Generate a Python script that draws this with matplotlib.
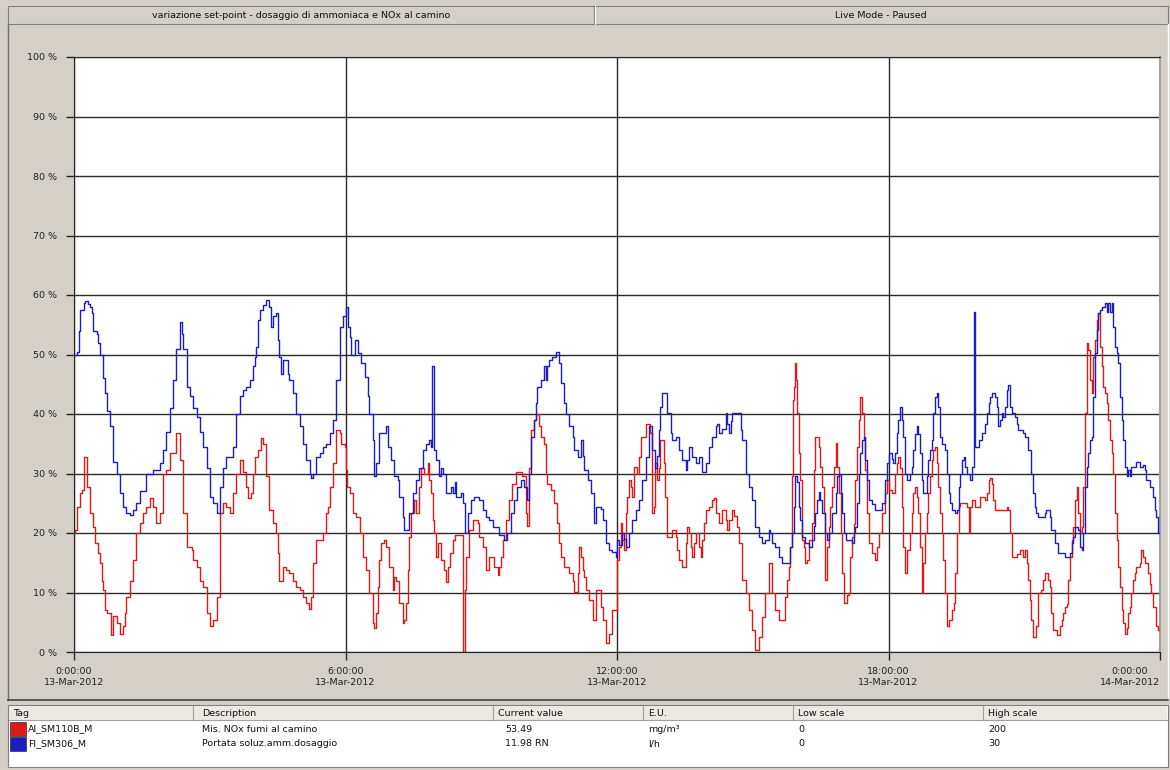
import matplotlib
matplotlib.use("Agg")
import matplotlib.pyplot as plt
from matplotlib.patches import Rectangle
from matplotlib.lines import Line2D

# ---------------- data (hours since 13-Mar-2012 0:00, % of scale) ----------------
nox_t = [0.00, 0.02, 0.06, 0.13, 0.17, 0.21, 0.22, 0.26, 0.28, 0.35, 0.43, 0.46, 0.54, 0.57, 0.61, 0.65,
         0.68, 0.72, 0.79, 0.82, 0.87, 0.94, 1.01, 1.09, 1.12, 1.16, 1.24, 1.31, 1.38, 1.46, 1.53, 1.60,
         1.68, 1.75, 1.82, 1.90, 1.97, 2.04, 2.12, 2.19, 2.26, 2.34, 2.41, 2.49, 2.60, 2.63, 2.71, 2.78,
         2.85, 2.93, 3.00, 3.07, 3.15, 3.22, 3.29, 3.37, 3.44, 3.51, 3.59,
         3.66, 3.74, 3.81, 3.85, 3.92, 3.96, 3.99, 4.07, 4.14, 4.18, 4.25, 4.32, 4.40, 4.47, 4.51, 4.54,
         4.62, 4.69, 4.76, 4.84, 4.91, 4.99, 5.06, 5.13, 5.19, 5.24, 5.28, 5.35, 5.50, 5.57, 5.61, 5.65,
         5.72, 5.79, 5.87, 5.90, 5.98, 6.00, 6.03, 6.09, 6.16, 6.24, 6.31, 6.38, 6.46, 6.53, 6.60, 6.64,
         6.68, 6.71, 6.75, 6.79, 6.86, 6.90, 6.97, 7.04, 7.08, 7.12, 7.19, 7.27, 7.30, 7.34, 7.38, 7.41,
         7.45, 7.52, 7.56,
         7.63, 7.67, 7.74, 7.82, 7.85, 7.89, 7.93, 7.96, 8.00, 8.04, 8.07, 8.11, 8.18, 8.22, 8.26, 8.30,
         8.37, 8.41, 8.59, 8.60, 8.63, 8.66, 8.74, 8.81, 8.92, 8.96, 9.03, 9.10, 9.18, 9.29, 9.36, 9.40,
         9.43, 9.47, 9.55, 9.62, 9.69, 9.77, 9.91, 9.99, 10.02, 10.06, 10.10, 10.17, 10.21, 10.28, 10.32,
         10.39, 10.43, 10.46, 10.54, 10.61, 10.68, 10.72, 10.76, 10.83, 10.94, 11.02, 11.05, 11.13, 11.16,
         11.20, 11.24, 11.27, 11.31, 11.38, 11.46, 11.53, 11.60,
         11.64, 11.68, 11.75, 11.82, 11.90, 11.97, 11.99, 12.01, 12.05, 12.08, 12.12, 12.16, 12.19, 12.23,
         12.27, 12.30, 12.34, 12.38, 12.45, 12.49, 12.52, 12.63, 12.71, 12.74, 12.78, 12.82, 12.85, 12.89,
         12.93, 12.96, 13.04, 13.07, 13.11, 13.19, 13.22, 13.30, 13.33, 13.37, 13.44, 13.52, 13.55, 13.59,
         13.63, 13.66, 13.70, 13.74, 13.81, 13.85, 13.88, 13.92, 13.96, 14.03, 14.10, 14.14, 14.18, 14.25,
         14.33, 14.40, 14.44, 14.47, 14.55, 14.58, 14.66, 14.69, 14.77, 14.84, 14.91, 14.99, 15.06, 15.13,
         15.21, 15.28, 15.35, 15.43, 15.50, 15.57,
         15.65, 15.69, 15.72, 15.76, 15.80, 15.83, 15.87, 15.88, 15.91, 15.94, 15.96, 15.98, 16.02, 16.05,
         16.09, 16.13, 16.16, 16.20, 16.24, 16.31, 16.35, 16.38, 16.42, 16.46, 16.49, 16.53, 16.57, 16.60,
         16.64, 16.68, 16.71, 16.75, 16.79, 16.83, 16.86, 16.90, 16.94, 16.97, 17.01, 17.08, 17.12, 17.16,
         17.19, 17.23, 17.27, 17.30, 17.34, 17.38, 17.41, 17.45, 17.49, 17.52, 17.56, 17.63, 17.71, 17.74,
         17.78, 17.85, 17.93, 17.96, 18.00, 18.08, 18.15, 18.19, 18.22, 18.26, 18.30, 18.33, 18.37, 18.41,
         18.48, 18.52, 18.55, 18.59, 18.63, 18.66, 18.70, 18.74, 18.77, 18.81, 18.85, 18.88, 18.92, 18.96,
         18.99, 19.03, 19.07, 19.10, 19.14, 19.18, 19.21, 19.25, 19.29, 19.33, 19.40, 19.44, 19.47, 19.51,
         19.55, 19.58, 19.66, 19.73, 19.77, 19.80, 19.84, 19.91, 20.02, 20.13, 20.17, 20.21, 20.25, 20.28,
         20.32, 20.36, 20.61, 20.65, 20.69, 20.72, 20.83, 20.91, 20.98, 21.02, 21.05, 21.09, 21.13, 21.16,
         21.20, 21.24, 21.27, 21.31, 21.38, 21.42, 21.46, 21.49, 21.53, 21.57, 21.60, 21.64, 21.72, 21.79,
         21.83, 21.86, 21.90, 21.94, 21.97, 22.01, 22.05, 22.08, 22.12, 22.16, 22.19, 22.23, 22.27, 22.30,
         22.34, 22.38, 22.41, 22.45, 22.49, 22.52, 22.56, 22.60, 22.63, 22.67, 22.71, 22.75, 22.78, 22.82,
         22.86, 22.89, 22.93, 22.97, 23.00, 23.04, 23.08, 23.11, 23.15, 23.19, 23.22, 23.26, 23.30, 23.33,
         23.37, 23.41, 23.44, 23.48, 23.55, 23.59, 23.63, 23.66, 23.74, 23.77, 23.81, 23.85, 23.92, 23.96,
         24.00]
nox_v = [20.0, 20.5, 24.4, 26.7, 27.2, 29.5, 32.8, 32.8, 27.8, 23.3, 21.0, 18.3, 16.6, 15.0, 12.0, 10.4,
         7.0, 6.5, 6.5, 2.9, 6.0, 4.8, 3.1, 4.3, 6.5, 9.3, 12.0, 15.5, 20.0, 21.6, 23.3, 24.4,
         25.8, 24.4, 21.6, 23.3, 30.0, 30.6, 33.4, 33.4, 36.8, 32.3, 23.3, 17.7, 17.2, 15.5, 14.3, 12.0,
         11.0, 6.5, 4.3, 5.4, 9.3, 23.3, 25.0, 24.4, 23.3, 26.7, 30.0,
         32.3, 30.3, 27.8, 25.8, 26.7, 30.0, 32.8, 34.0, 35.9, 35.0, 29.5, 23.9, 21.6, 20.0, 16.6, 12.0,
         14.3, 13.7, 13.2, 12.0, 11.0, 10.4, 9.3, 8.2, 7.3, 9.3, 14.9, 18.8, 20.0, 23.3, 24.4, 27.8,
         31.7, 37.3, 36.8, 35.0, 34.5, 30.6, 27.8, 26.7, 23.3, 22.7, 20.0, 16.0, 13.7, 9.9, 4.8, 4.0,
         6.5, 11.0, 15.5, 18.3, 18.8, 17.7, 14.3, 10.4, 12.6, 12.0, 8.2, 4.8, 5.4, 8.2, 13.7, 19.4,
         23.3, 25.5, 23.3,
         27.8, 31.0, 30.0, 31.7, 28.9, 26.7, 22.2, 20.0, 16.0, 18.3, 18.3, 15.5, 13.7, 11.8, 14.3, 16.6,
         18.8, 19.7, 19.7, 0.0, 10.4, 16.0, 20.5, 22.2, 21.6, 19.4, 17.7, 13.7, 16.0, 14.3, 12.9, 14.3,
         16.0, 18.8, 22.2, 25.5, 28.3, 30.3, 29.5, 23.3, 21.1, 31.0, 37.3, 39.0, 40.0, 37.9, 36.2,
         35.0, 30.0, 28.3, 27.2, 25.0, 21.6, 18.3, 16.0, 14.3, 13.2, 12.0, 10.1, 13.2, 17.7,
         16.0, 13.7, 12.6, 10.4, 8.7, 5.4, 10.4, 10.4,
         7.5, 5.4, 1.5, 3.1, 7.1, 7.0, 12.1, 15.5, 17.7, 21.6, 18.8, 17.1, 23.3, 26.1,
         28.9, 27.8, 26.0, 31.1, 30.0, 32.8, 36.2, 38.4, 38.4, 36.8, 23.3, 24.4, 31.7, 28.9,
         31.0, 35.6, 31.7, 26.1, 19.4, 19.4, 20.5, 19.4, 17.1, 15.5, 14.3, 18.3, 21.0, 20.0,
         17.7, 16.0, 18.3, 20.0, 17.7, 16.0, 18.8, 21.6, 23.9, 24.4, 25.5, 25.8, 23.3, 21.6,
         23.9, 22.2, 20.5, 22.2, 23.9, 22.8, 21.0, 18.3, 12.1, 9.9, 7.1, 3.7, 0.3, 2.6,
         5.9, 9.9, 14.9, 9.9, 7.1, 5.4,
         5.4, 5.4, 9.3, 12.1, 14.3, 17.7, 29.5, 42.4, 44.6, 48.5, 45.7, 40.1, 33.4, 28.9,
         18.8, 17.7, 14.9, 15.5, 18.8, 21.6, 30.6, 36.2, 36.2, 34.5, 31.1, 27.8, 23.3, 12.1,
         17.7, 21.0, 24.4, 27.8, 31.1, 35.1, 31.1, 26.7, 20.0, 13.2, 8.2, 9.6, 9.9, 15.9,
         19.4, 21.5, 28.9, 34.5, 39.0, 42.9, 40.1, 36.2, 30.6, 23.3, 18.3, 16.6, 15.5, 17.7,
         20.0, 23.3, 26.7, 28.9, 27.2, 26.7, 30.0, 31.7, 32.8, 31.0, 24.4, 17.7, 13.2, 17.1,
         20.0, 23.3, 26.7, 27.8, 26.1, 23.3, 17.7, 9.9, 14.9, 20.0, 23.3, 26.7, 29.5, 32.3,
         33.9, 34.5, 31.7, 27.8, 23.3, 20.0, 15.5, 9.9, 4.3, 5.4, 7.1, 8.2, 13.2, 20.0,
         24.5, 25.0, 25.0, 24.4, 20.0, 24.4, 25.5, 24.4, 26.1, 25.5, 26.7, 28.9, 29.2, 28.3,
         25.5, 23.9, 24.4, 23.9, 20.0, 16.0, 16.5, 17.1, 16.0, 17.1, 14.9, 12.1, 8.7, 5.4,
         2.5, 2.5, 4.3, 9.9, 10.4, 12.1, 13.2, 13.2, 12.1, 11.0, 6.5, 3.7, 2.9, 4.3,
         5.4, 6.5, 7.6, 8.0, 12.1, 16.0, 18.8, 21.0, 25.5, 27.7, 23.3, 20.0, 21.0, 27.7,
         40.1, 51.9, 50.8, 45.7, 43.5, 49.6, 52.4, 55.8, 56.9, 51.3, 48.0, 44.6, 43.5, 41.8,
         39.0, 35.6, 33.4, 30.0, 23.3, 18.8, 14.3, 11.0, 7.1, 4.8, 3.1, 4.0, 6.5, 7.6,
         9.9, 12.1, 13.2, 14.3, 14.9, 17.1, 16.0, 14.9, 13.2, 11.5, 9.9, 7.6, 4.3, 3.7,
         3.7]

flow_t = [0.00, 0.06, 0.10, 0.13, 0.21, 0.24, 0.32, 0.35, 0.39, 0.43, 0.50, 0.54, 0.57, 0.65, 0.68, 0.72,
          0.79, 0.87, 0.94, 1.01, 1.09, 1.16, 1.24, 1.31, 1.38, 1.46, 1.60, 1.75, 1.90, 1.97, 2.04, 2.12,
          2.19, 2.26, 2.34, 2.38, 2.41, 2.49, 2.56, 2.63, 2.71, 2.78, 2.85, 2.93, 3.00, 3.07, 3.15, 3.22,
          3.29, 3.37, 3.51, 3.59,
          3.66, 3.74, 3.81, 3.88, 3.96, 3.99, 4.03, 4.07, 4.10, 4.18, 4.25, 4.32, 4.36, 4.40, 4.47, 4.51,
          4.54, 4.58, 4.62, 4.69, 4.73, 4.76, 4.84, 4.91, 4.99, 5.06, 5.13, 5.21, 5.24, 5.28, 5.35, 5.43,
          5.50, 5.57, 5.65, 5.72, 5.79, 5.87, 5.94, 6.00, 6.05, 6.09, 6.13, 6.20, 6.24, 6.27, 6.35, 6.42,
          6.49, 6.53, 6.60, 6.64, 6.68, 6.75, 6.90, 6.93, 7.01, 7.08, 7.15, 7.19, 7.27, 7.30, 7.38, 7.41,
          7.49, 7.56,
          7.63, 7.71, 7.78, 7.85, 7.90, 7.91, 7.94, 7.95, 8.00, 8.07, 8.11, 8.15, 8.22, 8.33, 8.37, 8.41,
          8.44, 8.55, 8.59, 8.63, 8.70, 8.77, 8.85, 8.96, 9.03, 9.10, 9.18, 9.25, 9.40, 9.51, 9.58, 9.66,
          9.73, 9.80, 9.88, 9.95, 10.02, 10.06, 10.10, 10.17, 10.21, 10.24, 10.32, 10.39, 10.43, 10.46,
          10.50, 10.57, 10.65, 10.68, 10.72, 10.76, 10.83, 10.87, 10.94, 11.02, 11.05, 11.13, 11.20, 11.24,
          11.27, 11.35, 11.42, 11.49, 11.53, 11.64,
          11.68, 11.75, 11.82, 11.90, 11.97, 12.01, 12.05, 12.12, 12.16, 12.19, 12.27, 12.34, 12.41, 12.49,
          12.56, 12.63, 12.71, 12.74, 12.78, 12.85, 12.89, 12.93, 12.96, 13.00, 13.07, 13.11, 13.19, 13.22,
          13.30, 13.37, 13.44, 13.52, 13.55, 13.59, 13.66, 13.74, 13.81, 13.88, 13.96, 14.03, 14.10, 14.18,
          14.21, 14.25, 14.33, 14.40, 14.44, 14.47, 14.51, 14.55, 14.69, 14.73, 14.77, 14.84, 14.91, 14.99,
          15.06, 15.13, 15.21, 15.28, 15.35, 15.39, 15.43, 15.50, 15.57,
          15.65, 15.80, 15.83, 15.87, 15.91, 15.94, 15.98, 16.02, 16.05, 16.09, 16.16, 16.24, 16.31, 16.35,
          16.38, 16.42, 16.46, 16.49, 16.53, 16.60, 16.64, 16.68, 16.75, 16.83, 16.86, 16.90, 16.94, 16.97,
          17.01, 17.05, 17.19, 17.23, 17.27, 17.30, 17.34, 17.38, 17.41, 17.45, 17.49, 17.52, 17.56, 17.63,
          17.71, 17.78, 17.85, 17.93, 17.96, 18.00, 18.08, 18.11, 18.15, 18.19, 18.22, 18.26, 18.30, 18.33,
          18.37, 18.41, 18.48, 18.52, 18.55, 18.59, 18.63, 18.66, 18.70, 18.74, 18.77, 18.81, 18.85, 18.88,
          18.92, 18.96, 18.99, 19.03, 19.07, 19.10, 19.14, 19.18, 19.25, 19.29, 19.33, 19.36, 19.40, 19.47,
          19.51, 19.55,
          19.58, 19.62, 19.66, 19.69, 19.73, 19.77, 19.80, 19.84, 19.88, 19.90, 19.91, 19.95, 19.99, 20.06,
          20.13, 20.17, 20.21, 20.25, 20.28, 20.36, 20.39, 20.43, 20.47, 20.50, 20.54, 20.58, 20.61, 20.65,
          20.69, 20.72, 20.80, 20.83, 20.87, 20.98, 21.02, 21.09, 21.16, 21.20, 21.24, 21.27, 21.31, 21.46,
          21.49, 21.57, 21.60, 21.68, 21.75, 21.90, 22.01, 22.05, 22.08, 22.12, 22.19, 22.23, 22.27, 22.30,
          22.34, 22.38, 22.41, 22.45, 22.49, 22.52, 22.56, 22.60, 22.63, 22.67, 22.71, 22.78, 22.82, 22.86,
          22.89, 22.93, 22.97, 23.00, 23.04, 23.08, 23.11, 23.15, 23.19, 23.22, 23.26, 23.30, 23.33, 23.37,
          23.48, 23.55, 23.63, 23.66, 23.70, 23.77, 23.85, 23.88, 23.92, 23.96, 24.00]
flow_v = [50.0, 50.5, 54.0, 57.5, 58.6, 59.0, 58.5, 58.0, 57.0, 54.0, 53.5, 52.0, 50.0, 46.0, 43.5, 40.5,
          38.0, 32.0, 30.0, 26.7, 24.4, 23.3, 23.0, 23.8, 25.0, 27.0, 30.0, 30.6, 31.7, 34.0, 37.0, 41.0,
          45.7, 51.0, 55.5, 53.5, 51.0, 44.6, 43.0, 41.0, 39.5, 37.0, 34.5, 31.0, 26.0, 25.0, 23.3, 27.8,
          31.0, 32.8, 34.5, 40.0,
          43.0, 44.0, 44.6, 45.7, 48.0, 49.6, 51.3, 55.8, 57.5, 58.3, 59.2, 58.0, 54.7, 56.4, 57.0, 52.4,
          49.6, 46.8, 49.0, 49.0, 46.8, 45.7, 43.5, 40.0, 37.9, 35.0, 32.3, 30.0, 29.2, 30.0, 32.8, 33.4,
          34.5, 35.0, 36.8, 39.0, 45.7, 54.7, 56.4, 58.0, 54.7, 53.0, 49.9, 52.4, 52.4, 50.2, 48.5, 46.3,
          43.0, 40.0, 35.6, 29.5, 31.7, 36.8, 37.9, 34.5, 32.3, 29.5, 28.9, 26.0, 22.7, 20.5, 20.5, 23.3,
          26.7, 28.9,
          31.0, 34.0, 35.0, 35.6, 34.5, 48.0, 48.0, 34.0, 32.3, 29.5, 31.0, 30.0, 26.7, 27.8, 26.7, 28.6,
          26.0, 26.7, 25.0, 20.0, 23.3, 25.5, 26.0, 25.5, 23.9, 22.7, 22.2, 21.0, 19.7, 18.8, 20.0, 23.3,
          25.5, 27.8, 28.9, 27.8, 25.5, 30.0, 36.2, 39.0, 41.8, 44.6, 45.7, 48.0, 45.7, 48.0,
          49.0, 49.6, 50.5, 50.5, 48.5, 45.2, 41.8, 40.0, 37.9, 36.2, 34.0, 32.8, 35.6, 33.0,
          30.6, 28.9, 26.7, 21.6, 24.4, 24.0,
          22.2, 18.3, 17.1, 16.8, 16.0, 18.8, 18.0, 20.0, 19.0, 17.7, 20.0, 22.2, 23.9, 25.5,
          28.9, 32.8, 37.9, 37.9, 34.0, 31.0, 33.0, 37.3, 41.2, 43.5, 43.5, 40.1, 36.8, 35.6,
          36.2, 34.0, 32.3, 30.6, 32.3, 34.5, 32.8, 31.7, 32.8, 30.3, 31.7, 34.5, 36.2, 37.9,
          38.4, 36.8, 37.5, 40.1, 38.4, 36.8, 38.8, 40.1, 40.1, 37.3, 35.6, 30.0, 27.8, 25.5,
          21.0, 19.4, 18.3, 18.8, 20.5, 20.0, 18.3, 17.7, 16.0,
          14.9, 14.9, 17.7, 20.0, 24.4, 29.5, 28.5, 24.4, 22.2, 19.4, 18.3, 17.7, 18.8, 21.1,
          23.3, 25.5, 26.9, 25.5, 23.3, 20.0, 18.8, 20.0, 23.3, 26.7, 29.5, 30.0, 26.7, 23.3,
          20.0, 18.8, 18.3, 20.0, 21.0, 25.0, 30.0, 33.4, 35.6, 36.2, 32.3, 28.9, 25.5, 24.9,
          23.9, 23.9, 25.0, 28.9, 31.7, 33.4, 32.5, 31.8, 33.4, 36.8, 39.0, 41.2, 39.0, 36.2,
          30.0, 28.9, 30.0, 31.1, 33.9, 36.7, 37.9, 36.7, 33.4, 28.9, 26.7, 26.7, 29.5, 32.3,
          33.9, 35.6, 40.1, 42.9, 43.5, 41.2, 36.2, 35.0, 33.9, 30.0, 26.7, 25.0, 23.9, 23.3,
          23.9, 27.8,
          30.0, 32.3, 32.8, 31.1, 30.0, 30.0, 28.9, 31.1, 31.1, 57.2, 34.5, 34.5, 35.6, 36.8,
          38.4, 40.1, 41.8, 42.9, 43.5, 42.9, 41.2, 37.9, 39.0, 40.1, 39.5, 41.2, 44.0, 44.9,
          41.2, 40.1, 39.5, 38.4, 37.3, 36.8, 36.2, 33.9, 30.0, 26.7, 24.4, 23.3, 22.7, 23.3,
          23.9, 22.7, 20.5, 18.3, 16.6, 16.0, 16.6, 18.3, 19.4, 21.0, 20.5, 17.7, 17.1, 20.0,
          27.8, 31.1, 33.4, 35.6, 36.2, 42.9, 50.2, 54.1, 56.9, 57.5, 58.0, 58.6, 57.2, 58.6,
          57.2, 58.6, 54.7, 51.3, 50.2, 48.5, 42.9, 39.0, 35.6, 31.1, 29.5, 30.6, 29.5, 31.1,
          32.0, 31.1, 31.4, 30.6, 28.9, 27.8, 26.1, 23.9, 22.7, 20.0, 20.0]

y_ticks = [0, 10, 20, 30, 40, 50, 60, 70, 80, 90, 100]
x_ticks = [0, 6, 12, 18, 24]
x_tick_labels = ["0:00:00\n13-Mar-2012", "6:00:00\n13-Mar-2012", "12:00:00\n13-Mar-2012",
                 "18:00:00\n13-Mar-2012", "0:00:00\n14-Mar-2012"]

header_left = "variazione set-point - dosaggio di ammoniaca e NOx al camino"
header_right = "Live Mode - Paused"

table_cols = ["Tag", "Description", "Current value", "E.U.", "Low scale", "High scale"]
table_rows = [
    ["AI_SM110B_M", "Mis. NOx fumi al camino", "53.49", "mg/m\u00b3", "0", "200"],
    ["FI_SM306_M", "Portata soluz.amm.dosaggio", "11.98 RN", "l/h", "0", "30"],
]
series_colors = ["#e01818", "#1c1cc0"]

# ---------------- figure ----------------
W, H = 1170, 770
BG = "#d4d0c8"
plt.rcParams['font.family'] = ['DejaVu Sans']
fig = plt.figure(figsize=(W / 100, H / 100), dpi=100, facecolor=BG)


def fx(x):
    return x / W


def fy(y):
    return 1 - y / H


def rect(x0, y0, x1, y1, fc, ec="none", lw=1.0, z=0):
    fig.patches.append(Rectangle((fx(x0), fy(y1)), fx(x1) - fx(x0), fy(y0) - fy(y1),
                                 transform=fig.transFigure, facecolor=fc, edgecolor=ec,
                                 linewidth=lw, zorder=z))


def hline(x0, x1, y, color, lw=1.0):
    fig.lines.append(Line2D([fx(x0), fx(x1)], [fy(y), fy(y)], transform=fig.transFigure,
                            color=color, linewidth=lw))


def vline(x, y0, y1, color, lw=1.0):
    fig.lines.append(Line2D([fx(x), fx(x)], [fy(y0), fy(y1)], transform=fig.transFigure,
                            color=color, linewidth=lw))


FS = 6.8

# header bar
rect(8, 6, 1168, 24, BG, ec="#808080", lw=0.8)
vline(594, 6, 24, "#808080", 0.8)
vline(595, 6, 24, "#ffffff", 0.8)
fig.text(fx(301), fy(15.5), header_left, ha="center", va="center", fontsize=FS, color="#111111")
fig.text(fx(881), fy(15.5), header_right, ha="center", va="center", fontsize=FS, color="#111111")

# chart frame
vline(8, 24, 700, "#707070", 1.0)
vline(1168, 24, 700, "#ffffff", 1.0)
hline(8, 1168, 700, "#404040", 1.2)

# ---------------- main axes ----------------
ax = fig.add_axes([fx(74), fy(652), fx(1160) - fx(74), fy(57) - fy(652)])
ax.set_facecolor("white")
ax.plot(nox_t, nox_v, drawstyle="steps-post", color=series_colors[0], lw=1.0, zorder=3)
ax.plot(flow_t, flow_v, drawstyle="steps-post", color=series_colors[1], lw=1.0, zorder=4)
ax.set_xlim(0, 24)
ax.set_ylim(0, 100)
ax.set_yticks(y_ticks)
ax.set_yticklabels([f"{v} %" for v in y_ticks])
ax.set_xticks(x_ticks)
ax.set_xticklabels(x_tick_labels)
ax.grid(True, color="#2a2a2a", linewidth=1.0, zorder=1)
ax.set_axisbelow(True)
ax.tick_params(axis="both", labelsize=FS, color="#222222", labelcolor="#222222", length=6, width=1)
ax.tick_params(axis="x", pad=5)
ax.tick_params(axis="y", pad=6)
xlbls = ax.get_xticklabels()
for lbl in xlbls:
    lbl.set_linespacing(1.25)
    lbl.set_multialignment("center")
xlbls[-1].set_horizontalalignment("right")
ax.spines["left"].set_color("#222222")
ax.spines["bottom"].set_color("#222222")
ax.spines["top"].set_color("#2a2a2a")
ax.spines["right"].set_color("#a0a0a0")
ax.spines["right"].set_linewidth(1.5)

# ---------------- legend table ----------------
rect(8, 705, 1168, 767, "white", ec="#808080", lw=0.8)
rect(9, 706, 1167, 720, "#ece9e2", ec="none")
hline(9, 1167, 720, "#a0a0a0", 0.8)
col_x = [8, 193, 493, 643, 793, 983]
text_x = [13, 202, 498, 648, 798, 988]
for cx in col_x[1:]:
    vline(cx, 706, 720, "#a0a0a0", 0.8)
for i, c in enumerate(table_cols):
    fig.text(fx(text_x[i]), fy(713.5), c, ha="left", va="center", fontsize=FS, color="#111111")
row_y = [729, 744]
for r, row in enumerate(table_rows):
    rect(10, row_y[r] - 7, 26, row_y[r] + 7, series_colors[r], ec="#303030", lw=0.5, z=2)
    xs = [28, 202, 505, 648, 798, 988]
    for i, val in enumerate(row):
        fig.text(fx(xs[i]), fy(row_y[r]), val, ha="left", va="center", fontsize=FS, color="#111111")

fig.savefig("out.png", dpi=100, facecolor=BG)
